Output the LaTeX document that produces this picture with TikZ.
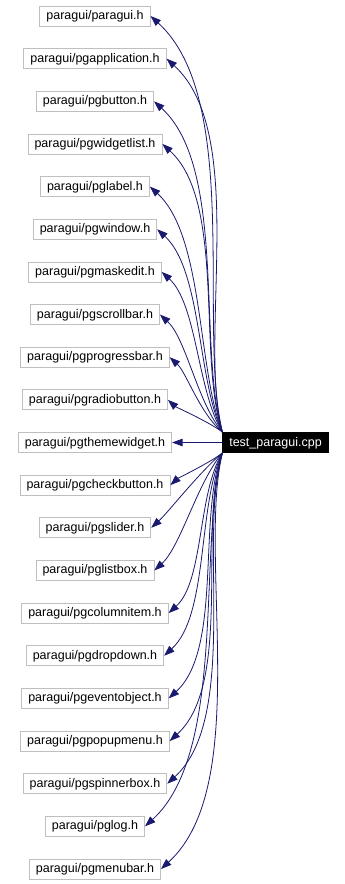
\documentclass[tikz,border=0pt]{standalone}
\usepackage{fontspec}
\setmainfont{Liberation Sans}
\usetikzlibrary{arrows.meta}
\definecolor{edgeblue}{HTML}{191970}
\definecolor{boxgray}{HTML}{BFBFBF}
\begin{document}
\begin{tikzpicture}[x=1pt,y=-1pt,
  header/.style={draw=boxgray, line width=0.8pt, fill=white, inner xsep=6.5pt,
    inner ysep=0pt, minimum height=20pt, font=\fontsize{12.5}{14}\selectfont,
    text height=9.5pt, text depth=2.5pt},
  source/.style={header, draw=black, fill=black, text=white},
  dep/.style={draw=edgeblue, line width=0.8pt,
    -{Triangle[length=10.5pt,width=7.5pt,fill=edgeblue]}}]
\fill[white] (0,0) rectangle (345,884);
\useasboundingbox (0,0) rectangle (345,884);

% included headers, one column
\foreach \i/\f in {1/paragui,2/pgapplication,3/pgbutton,4/pgwidgetlist,
  5/pglabel,6/pgwindow,7/pgmaskedit,8/pgscrollbar,9/pgprogressbar,
  10/pgradiobutton,11/pgthemewidget,12/pgcheckbutton,13/pgslider,
  14/pglistbox,15/pgcolumnitem,16/pgdropdown,17/pgeventobject,
  18/pgpopupmenu,19/pgspinnerbox,20/pglog,21/pgmenubar}
  \node[header] (n\i) at (95,{16+42.65*(\i-1)}) {paragui/\f.h};

% the source file
\node[source] (main) at (275.5,442.5) {test\_paragui.cpp};

% edges to headers above the source
\foreach \i in {1,...,10} {
  \pgfmathsetmacro\d{433-(16+42.65*(\i-1))}
  \pgfmathsetmacro\a{min(25,0.3*\d)}
  \draw[dep] (main.north west) .. controls +(-\a,-0.25*\d)
    and +(0.22*\d,0.2*\d) .. (n\i.east);
}
% straight edge
\draw[dep] (main.west) -- (n11.east);
% edges to headers below the source
\foreach \i in {12,...,21} {
  \pgfmathsetmacro\d{(16+42.65*(\i-1))-452}
  \pgfmathsetmacro\a{min(25,0.3*\d)}
  \draw[dep] (main.south west) .. controls +(-\a,0.25*\d)
    and +(0.22*\d,-0.2*\d) .. (n\i.east);
}
\end{tikzpicture}
\end{document}
